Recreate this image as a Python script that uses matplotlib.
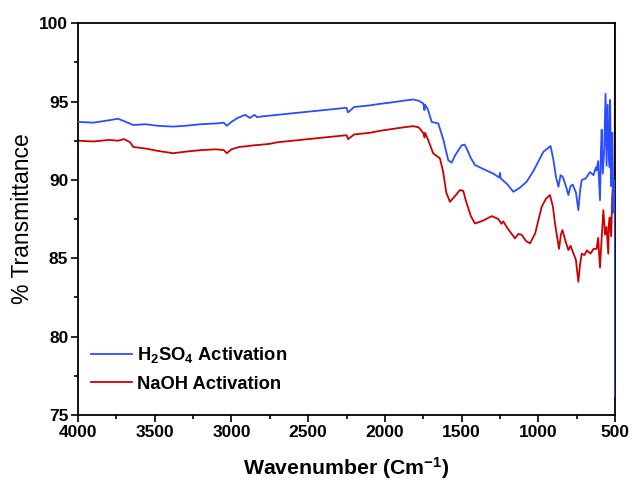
import matplotlib
matplotlib.use("Agg")
import matplotlib.pyplot as plt
from matplotlib.ticker import MultipleLocator

plt.rcParams['font.family'] = ['Liberation Sans', 'DejaVu Sans']
plt.rcParams['mathtext.fontset'] = 'custom'
plt.rcParams['mathtext.rm'] = 'Liberation Sans:bold'
plt.rcParams['mathtext.it'] = 'Liberation Sans:bold'
plt.rcParams['mathtext.bf'] = 'Liberation Sans:bold'

# FTIR spectra, wavenumber in cm^-1
h2so4_wn = [4000, 3900, 3800, 3739, 3700, 3640, 3560, 3480, 3380, 3300, 3200,
            3100, 3050, 3030, 3000, 2960, 2910, 2880, 2850, 2833, 2800, 2700,
            2600, 2500, 2400, 2300, 2250, 2240, 2200, 2100, 2032, 1950, 1880,
            1815, 1780, 1750, 1742, 1738, 1720, 1695, 1652, 1620, 1587, 1565,
            1540, 1500, 1480, 1467, 1440, 1413, 1360, 1293, 1255, 1250, 1245,
            1200, 1163, 1120, 1076, 1030, 967, 920, 902, 885, 869, 855, 841,
            820, 804, 790, 776, 755, 739, 728, 717, 690, 663, 640, 625, 620,
            610, 598, 592, 587, 580, 570, 562, 555, 548, 540, 535, 532, 525,
            518, 511, 505, 502, 500, 500]
h2so4_t = [93.7, 93.65, 93.8, 93.9, 93.75, 93.5, 93.55, 93.45, 93.4, 93.45, 93.55,
           93.6, 93.65, 93.45, 93.7, 93.95, 94.15, 93.95, 94.15, 94.0, 94.05, 94.15,
           94.25, 94.35, 94.45, 94.55, 94.6, 94.3, 94.65, 94.75, 94.85, 94.95, 95.05,
           95.13, 95.05, 94.88, 94.45, 94.8, 94.5, 93.7, 93.6, 92.6, 91.26, 91.1,
           91.6, 92.2, 92.25, 92.0, 91.4, 90.95, 90.7, 90.4, 90.15, 90.45, 90.1,
           89.7, 89.24, 89.5, 89.88, 90.6, 91.79, 92.16, 91.3, 90.2, 89.56, 90.3, 90.2,
           89.6, 89.03, 89.6, 89.7, 89.2, 88.07, 89.3, 89.99, 90.1, 90.5, 90.3, 90.8, 90.6,
           91.2, 88.7, 91.8, 93.2, 90.4, 92.0, 95.5, 90.9, 94.8, 91.5, 90.8, 95.1, 89.6,
           93.0, 87.9, 89.0, 88.0, 90.0, 76.2]

naoh_wn = [4000, 3900, 3800, 3739, 3700, 3660, 3640, 3560, 3480, 3380, 3300, 3200,
           3100, 3050, 3030, 3000, 2950, 2900, 2860, 2800, 2750, 2700, 2600, 2500,
           2400, 2300, 2250, 2240, 2200, 2100, 2032, 1950, 1880, 1815, 1780, 1750,
           1742, 1738, 1720, 1685, 1641, 1620, 1600, 1576, 1540, 1511, 1489, 1470,
           1440, 1413, 1360, 1304, 1260, 1240, 1228, 1200, 1152, 1130, 1109, 1080,
           1054, 1020, 978, 950, 924, 905, 891, 865, 853, 843, 820, 804, 790, 771,
           755, 739, 728, 717, 700, 684, 660, 640, 620, 610, 598, 590, 576, 565,
           555, 544, 540, 535, 525, 518, 511, 505, 502, 500]
naoh_t = [92.5, 92.45, 92.55, 92.5, 92.6, 92.4, 92.1, 92.0, 91.85, 91.7, 91.8, 91.9,
          91.95, 91.9, 91.7, 91.95, 92.1, 92.15, 92.2, 92.25, 92.3, 92.4, 92.5, 92.6,
          92.7, 92.8, 92.85, 92.6, 92.9, 93.0, 93.13, 93.25, 93.35, 93.43, 93.35, 93.0,
          92.7, 93.0, 92.6, 91.69, 91.37, 90.5, 89.2, 88.6, 89.0, 89.35, 89.3, 88.6,
          87.7, 87.22, 87.4, 87.69, 87.5, 87.2, 87.35, 86.9, 86.27, 86.55, 86.5, 86.1,
          85.95, 86.6, 88.29, 88.8, 89.03, 88.3, 87.2, 85.6, 86.5, 86.8, 86.0, 85.52,
          85.8, 85.3, 84.9, 83.5, 84.6, 85.3, 85.2, 85.5, 85.3, 85.6, 85.6, 86.3, 84.4,
          85.8, 88.07, 86.5, 87.0, 85.3, 87.2, 87.6, 86.4, 89.0, 90.0, 88.5, 92.0, 100.0]

labels = ["H$_2$SO$_4$ Activation", "NaOH Activation"]
colors = ["#2a4dff", "#cc0000"]

fig = plt.figure(figsize=(6.33, 4.82), dpi=100)
ax = fig.add_axes([0.1232, 0.139, 0.8484, 0.813])

ax.plot(h2so4_wn, h2so4_t, color=colors[0], lw=1.3, label=labels[0], zorder=3)
ax.plot(naoh_wn, naoh_t, color=colors[1], lw=1.3, label=labels[1], zorder=2)

ax.set_xlim(4000, 500)
ax.set_ylim(75, 100)
ax.xaxis.set_major_locator(MultipleLocator(500))
ax.xaxis.set_minor_locator(MultipleLocator(250))
ax.yaxis.set_major_locator(MultipleLocator(5))
ax.yaxis.set_minor_locator(MultipleLocator(2.5))
ax.tick_params(which='both', direction='out', top=False, right=False, width=1.2)
ax.tick_params(which='major', length=5, labelsize=12.5, pad=2)
ax.tick_params(which='minor', length=3)
for lbl in ax.get_xticklabels() + ax.get_yticklabels():
    lbl.set_fontweight('bold')
for sp in ax.spines.values():
    sp.set_linewidth(1.3)

ax.set_xlabel("Wavenumber (Cm$^{-1}$)", fontsize=15.3, fontweight='bold', labelpad=11)
ax.set_ylabel("% Transmittance", fontsize=16.5, labelpad=4)

leg = ax.legend(loc='lower left', bbox_to_anchor=(-0.006, 0.015), frameon=False,
                prop={'size': 13.2, 'weight': 'bold'}, handlelength=2.2,
                handletextpad=0.32, labelspacing=0.57, borderaxespad=0.5)

fig.savefig("out.png", dpi=100)
